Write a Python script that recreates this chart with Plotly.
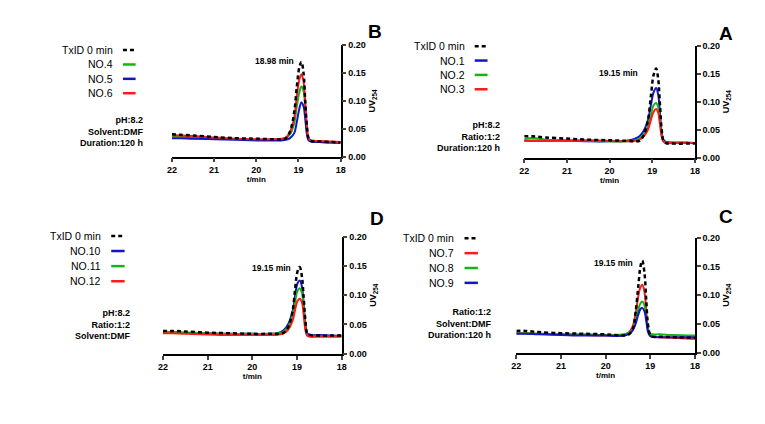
import plotly.graph_objects as go
from plotly.subplots import make_subplots

# retention time (min) sampled per panel
t_a = [22.0, 21.8, 21.5, 21.0, 20.5, 20.0, 19.6, 19.4, 19.3, 19.2, 19.1, 19.03, 18.97, 18.91, 18.86, 18.82, 18.78, 18.74, 18.68, 18.5, 18.2, 18.0]
t_b = [22.0, 21.8, 21.5, 21.0, 20.5, 20.0, 19.6, 19.4, 19.3, 19.2, 19.1, 19.04, 18.98, 18.93, 18.88, 18.84, 18.8, 18.76, 18.7, 18.5, 18.2, 18.0]
t_c = [22.0, 21.8, 21.5, 21.0, 20.5, 20.0, 19.8, 19.6, 19.5, 19.4, 19.33, 19.27, 19.22, 19.18, 19.13, 19.09, 19.05, 19.0, 18.95, 18.8, 18.5, 18.0]
t_d = [22.0, 21.8, 21.5, 21.0, 20.5, 20.0, 19.6, 19.4, 19.3, 19.2, 19.1, 19.04, 18.99, 18.94, 18.89, 18.85, 18.81, 18.77, 18.7, 18.5, 18.2, 18.0]

# UV254 signal
txid_a = [0.038, 0.038, 0.036, 0.034, 0.032, 0.031, 0.030, 0.029, 0.030, 0.040, 0.068, 0.112, 0.148, 0.160, 0.140, 0.095, 0.050, 0.031, 0.026, 0.025, 0.025, 0.025]
no1 = [0.030, 0.030, 0.030, 0.030, 0.029, 0.029, 0.030, 0.034, 0.038, 0.048, 0.068, 0.095, 0.117, 0.125, 0.112, 0.080, 0.046, 0.032, 0.028, 0.027, 0.027, 0.026]
no2 = [0.033, 0.035, 0.032, 0.031, 0.030, 0.029, 0.029, 0.031, 0.034, 0.041, 0.056, 0.078, 0.094, 0.098, 0.090, 0.066, 0.040, 0.029, 0.026, 0.026, 0.026, 0.026]
no3 = [0.030, 0.030, 0.030, 0.030, 0.031, 0.030, 0.029, 0.030, 0.032, 0.038, 0.050, 0.068, 0.082, 0.087, 0.080, 0.060, 0.038, 0.029, 0.027, 0.026, 0.026, 0.026]

txid_b = [0.040, 0.039, 0.038, 0.035, 0.033, 0.032, 0.031, 0.031, 0.033, 0.045, 0.080, 0.125, 0.160, 0.170, 0.150, 0.100, 0.055, 0.033, 0.028, 0.027, 0.026, 0.025]
no4 = [0.036, 0.036, 0.034, 0.032, 0.031, 0.030, 0.030, 0.031, 0.033, 0.040, 0.060, 0.090, 0.115, 0.126, 0.118, 0.088, 0.050, 0.031, 0.027, 0.026, 0.025, 0.025]
no5 = [0.033, 0.033, 0.032, 0.031, 0.030, 0.029, 0.029, 0.029, 0.030, 0.033, 0.042, 0.062, 0.086, 0.097, 0.090, 0.068, 0.040, 0.029, 0.027, 0.026, 0.025, 0.025]
no6 = [0.038, 0.038, 0.037, 0.034, 0.032, 0.031, 0.031, 0.032, 0.034, 0.044, 0.070, 0.108, 0.138, 0.148, 0.135, 0.098, 0.055, 0.033, 0.029, 0.028, 0.027, 0.026]

txid_c = [0.038, 0.038, 0.036, 0.034, 0.033, 0.032, 0.031, 0.030, 0.031, 0.040, 0.070, 0.115, 0.150, 0.160, 0.138, 0.090, 0.048, 0.031, 0.028, 0.028, 0.027, 0.026]
no7 = [0.034, 0.034, 0.033, 0.032, 0.031, 0.030, 0.030, 0.031, 0.034, 0.045, 0.068, 0.098, 0.114, 0.118, 0.105, 0.072, 0.042, 0.030, 0.028, 0.027, 0.026, 0.024]
no8 = [0.034, 0.034, 0.033, 0.032, 0.032, 0.031, 0.031, 0.032, 0.034, 0.040, 0.055, 0.075, 0.086, 0.089, 0.082, 0.060, 0.040, 0.033, 0.032, 0.032, 0.031, 0.030]
no9 = [0.033, 0.033, 0.032, 0.031, 0.030, 0.030, 0.029, 0.030, 0.032, 0.038, 0.050, 0.066, 0.076, 0.078, 0.072, 0.055, 0.036, 0.029, 0.028, 0.027, 0.027, 0.027]

txid_d = [0.039, 0.039, 0.038, 0.036, 0.035, 0.034, 0.034, 0.034, 0.036, 0.045, 0.072, 0.112, 0.140, 0.148, 0.132, 0.095, 0.055, 0.035, 0.032, 0.031, 0.031, 0.031]
no10 = [0.0375, 0.037, 0.036, 0.035, 0.034, 0.034, 0.034, 0.036, 0.040, 0.050, 0.072, 0.100, 0.120, 0.125, 0.115, 0.085, 0.050, 0.035, 0.032, 0.032, 0.031, 0.031]
no11 = [0.037, 0.037, 0.036, 0.035, 0.034, 0.034, 0.034, 0.035, 0.038, 0.046, 0.065, 0.090, 0.107, 0.112, 0.104, 0.078, 0.045, 0.031, 0.029, 0.029, 0.029, 0.029]
no12 = [0.035, 0.035, 0.034, 0.033, 0.032, 0.032, 0.032, 0.033, 0.035, 0.041, 0.056, 0.076, 0.090, 0.094, 0.088, 0.066, 0.040, 0.031, 0.030, 0.030, 0.030, 0.030]

peak_labels = ["19.15 min", "18.98 min", "19.15 min", "19.15 min"]
conditions = ["pH:8.2<br>Ratio:1:2<br>Duration:120 h",
              "pH:8.2<br>Solvent:DMF<br>Duration:120 h",
              "Ratio:1:2<br>Solvent:DMF<br>Duration:120 h",
              "pH:8.2<br>Ratio:1:2<br>Solvent:DMF"]

BLUE, GREEN, RED = "#1414c8", "#14b414", "#ff1a1a"
FONT = "Liberation Sans, Arial, sans-serif"
W, H, OFF = 765, 424, 8   # page body margin pushes the plot 8px right/down


def dx(a, b):
    return [(a - OFF) / W, (b - OFF) / W]


def dy(top, bottom):
    return [1 - (bottom - OFF) / H, 1 - (top - OFF) / H]


# letter, subplot cell, axis suffix, x-domain, y-domain, legend top, label pos, cond pos, data, letter pos (px)
panels = [
    ("A", 1, 2, "2", dx(526, 699), dy(42, 156), 1.0, (0.676, 0.761), (-0.133, 0.19),
     t_a, [("NO.1", no1, BLUE), ("NO.2", no2, GREEN), ("NO.3", no3, RED)], txid_a, (730, 29)),
    ("B", 1, 1, "", dx(169, 340), dy(41, 155), 0.956, (0.737, 0.858), (-0.154, 0.222),
     t_b, [("NO.4", no4, GREEN), ("NO.5", no5, BLUE), ("NO.6", no6, RED)], txid_b, (375, 27)),
    ("C", 2, 2, "4", dx(518, 699), dy(238, 356), 0.994, (0.663, 0.778), (-0.127, 0.25),
     t_c, [("NO.7", no7, RED), ("NO.8", no8, GREEN), ("NO.9", no9, BLUE)], txid_c, (730, 216)),
    ("D", 2, 1, "3", dx(160, 341), dy(237, 357), 1.006, (0.728, 0.734), (-0.166, 0.246),
     t_d, [("NO.10", no10, BLUE), ("NO.11", no11, GREEN), ("NO.12", no12, RED)], txid_d, (377, 218)),
]

fig = make_subplots(rows=2, cols=2)

for k, (letter, r, c, ax, xd, yd, ltop, lab, cond, t, series, txid, lpos) in enumerate(panels):
    for name, vals, col in series:
        fig.add_trace(go.Scatter(x=t, y=vals, mode="lines", line=dict(color=col, width=2, shape="spline"),
                                 name=name, showlegend=False), row=r, col=c)
    fig.add_trace(go.Scatter(x=t, y=txid, mode="lines",
                             line=dict(color="black", width=2.5, dash="4px,3px", shape="spline"),
                             name="TxID 0 min", showlegend=False), row=r, col=c)
    fig.update_xaxes(domain=xd, range=[22, 18], dtick=1, showline=True, linecolor="black", linewidth=1.5,
                     ticks="outside", ticklen=4, tickwidth=1.5, showgrid=False, zeroline=False,
                     tickfont=dict(size=9, family=FONT, color="black", weight="bold"),
                     title=dict(text="t/min", font=dict(size=8, family=FONT, color="black", weight="bold"), standoff=2),
                     row=r, col=c)
    fig.update_yaxes(domain=yd, range=[0, 0.2], dtick=0.05, tickformat=".2f", side="right",
                     showline=True, linecolor="black", linewidth=1.5, ticks="outside", ticklen=4,
                     tickwidth=1.5, showgrid=False, zeroline=False,
                     tickfont=dict(size=9, family=FONT, color="black", weight="bold"),
                     title=dict(text="UV<sub>254</sub>", font=dict(size=9, family=FONT, color="black", weight="bold"),
                                standoff=4),
                     row=r, col=c)

    xr, yr = "x%s domain" % ax, "y%s domain" % ax
    # legend drawn by hand: text right-aligned, line sample to its right
    entries = [("TxID 0 min", "black", "dot")] + [(n, col, "solid") for n, _, col in series]
    for i, (name, col, dash) in enumerate(entries):
        yy = ltop - i * 0.129
        fig.add_annotation(x=-0.335, y=yy, xref=xr, yref=yr, text=name, showarrow=False,
                           xanchor="right", yanchor="middle", font=dict(size=10.5, family=FONT, color="black"))
        fig.add_shape(type="line", x0=-0.29, x1=-0.215, y0=yy, y1=yy, xref=xr, yref=yr,
                      line=dict(color=col, width=2.5, dash="4px,3px" if dash == "dot" else "solid"))
    fig.add_annotation(x=lab[0], y=lab[1], xref=xr, yref=yr, text=peak_labels[k], showarrow=False,
                       xanchor="right", yanchor="middle", font=dict(size=8.5, family=FONT, color="black", weight="bold"))
    fig.add_annotation(x=cond[0], y=cond[1], xref=xr, yref=yr, text=conditions[k], showarrow=False,
                       xanchor="right", yanchor="middle", align="right",
                       font=dict(size=9, family=FONT, color="black", weight="bold"))
    fig.add_annotation(x=(lpos[0] - OFF) / W, y=1 - (lpos[1] - OFF) / H, xref="paper", yref="paper",
                       text=letter, showarrow=False, xanchor="center", yanchor="middle",
                       font=dict(size=19, family=FONT, color="black", weight="bold"))

fig.update_layout(width=W, height=H, margin=dict(l=0, r=0, t=0, b=0),
                  plot_bgcolor="white", paper_bgcolor="white", showlegend=False)

fig.write_html("out.html")
